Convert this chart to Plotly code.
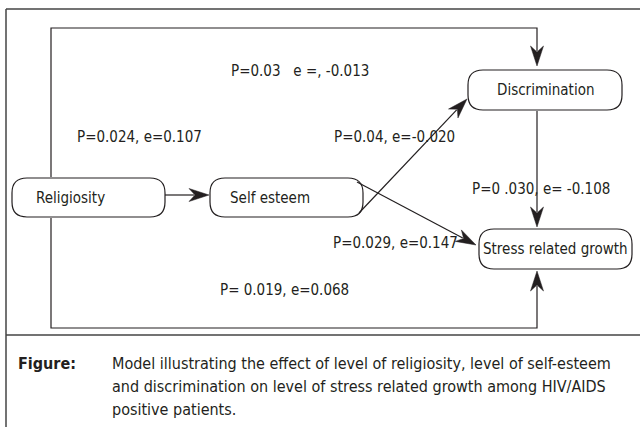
import math
import plotly.graph_objects as go

# ---- content ----
nodes = ["Religiosity", "Self esteem", "Discrimination", "Stress related growth"]
path_labels = [
    "P=0.03\u00a0\u00a0 e =, -0.013",
    "P=0.024, e=0.107",
    "P=0.04, e=-0.020",
    "P=0 .030, e= -0.108",
    "P=0.029, e=0.147",
    "P= 0.019, e=0.068",
]
caption_head = "Figure:"
caption_lines = [
    "Model illustrating the effect of level of religiosity, level of self-esteem",
    "and discrimination on level of stress related growth among HIV/AIDS",
    "positive patients.",
]

# ---- layout (pixel space, y down) ----
W, H = 640, 427
boxes = {
    "Religiosity": (12, 165, 178, 217),
    "Self esteem": (210, 363, 178, 217),
    "Discrimination": (468, 622, 70, 110),
    "Stress related growth": (479, 632, 229, 269),
}
edges = [
    [(51, 177), (51, 28), (537, 28), (537, 66)],
    [(165, 195), (209, 195)],
    [(359, 213), (467, 99)],
    [(357, 182), (476, 245)],
    [(537, 111), (537, 227)],
    [(51, 218), (51, 328), (537, 328), (537, 271)],
]
label_pos = [(229, 71), (75, 137), (332, 137), (470, 189), (331, 243), (218, 290)]

LINE = "#231f20"
FONT = "Liberation Sans Narrow, DejaVu Sans Condensed, Liberation Sans, sans-serif"

shapes = []


def rounded(x0, x1, y0, y1, r):
    return (f"M {x0+r},{y0} L {x1-r},{y0} Q {x1},{y0} {x1},{y0+r} L {x1},{y1-r} "
            f"Q {x1},{y1} {x1-r},{y1} L {x0+r},{y1} Q {x0},{y1} {x0},{y1-r} "
            f"L {x0},{y0+r} Q {x0},{y0} {x0+r},{y0} Z")


AL, AHW, ANOTCH = 20, 6.5, 6


def dart(tip, frm, L=AL, hw=AHW, notch=ANOTCH):
    dx, dy = tip[0] - frm[0], tip[1] - frm[1]
    n = math.hypot(dx, dy)
    ux, uy = dx / n, dy / n
    px, py = -uy, ux
    bx, by = tip[0] - ux * L, tip[1] - uy * L
    lx, ly = bx + px * hw, by + py * hw
    rx, ry = bx - px * hw, by - py * hw
    nx, ny = tip[0] - ux * (L - notch), tip[1] - uy * (L - notch)
    return f"M {tip[0]},{tip[1]} L {lx},{ly} L {nx},{ny} L {rx},{ry} Z"


# frame
shapes.append(dict(type="line", x0=6, y0=9, x1=W, y1=9, line=dict(color="#444", width=1.5)))
shapes.append(dict(type="line", x0=6, y0=9, x1=6, y1=H, line=dict(color="#444", width=1.5)))
shapes.append(dict(type="line", x0=6, y0=335, x1=W, y1=335, line=dict(color="#444", width=1.5)))

# boxes
for name in nodes:
    x0, x1, y0, y1 = boxes[name]
    shapes.append(dict(type="path", path=rounded(x0, x1, y0, y1, 15),
                       line=dict(color=LINE, width=1.2), fillcolor="rgba(0,0,0,0)"))

# edges
for pts in edges:
    p = "M " + " L ".join(f"{x},{y}" for x, y in pts[:-1])
    tip, frm = pts[-1], pts[-2]
    dx, dy = tip[0] - frm[0], tip[1] - frm[1]
    n = math.hypot(dx, dy)
    back = AL - ANOTCH + 1
    end = (tip[0] - dx / n * back, tip[1] - dy / n * back)
    p += f" L {end[0]},{end[1]}"
    shapes.append(dict(type="path", path=p, line=dict(color=LINE, width=1.2)))
    shapes.append(dict(type="path", path=dart(tip, frm), line=dict(color=LINE, width=0.5),
                       fillcolor=LINE))

annotations = []
for name in nodes:
    x0, x1, y0, y1 = boxes[name]
    cx = (x0 + x1) / 2
    if name == "Religiosity":
        cx = x0 + 58
    if name == "Self esteem":
        cx = x0 + 60
    annotations.append(dict(x=cx, y=(y0 + y1) / 2, text=name, showarrow=False,
                            xanchor="center", yanchor="middle", align="center",
                            font=dict(family=FONT, size=15, color=LINE)))
for txt, (x, y) in zip(path_labels, label_pos):
    annotations.append(dict(x=x, y=y, text=txt, showarrow=False, xanchor="left", align="left",
                            yanchor="middle", font=dict(family=FONT, size=15, color=LINE)))

annotations.append(dict(x=16, y=363, text="<b>" + caption_head + "</b>", showarrow=False,
                        xanchor="left", yanchor="middle", align="left",
                        font=dict(family=FONT, size=16, color=LINE)))
for i, line in enumerate(caption_lines):
    annotations.append(dict(x=110, y=363 + 23 * i, text=line, showarrow=False,
                            xanchor="left", yanchor="middle", align="left",
                            font=dict(family=FONT, size=16, color=LINE)))

fig = go.Figure(go.Scatter(x=[], y=[]))
fig.update_layout(
    width=W, height=H, margin=dict(l=0, r=0, t=0, b=0),
    paper_bgcolor="white", plot_bgcolor="white",
    xaxis=dict(range=[0, W], visible=False, fixedrange=True),
    yaxis=dict(range=[H, 0], visible=False, fixedrange=True),
    shapes=shapes, annotations=annotations, showlegend=False,
)
post = ("var s=document.createElement('style');"
        "s.innerHTML='html,body{margin:0;padding:0;overflow:hidden} text{font-stretch:condensed !important}';"
        "document.head.appendChild(s);"
        "var gd=document.getElementById('{plot_id}');"
        "Plotly.react(gd, gd.data, gd.layout);")
fig.write_html("out.html", post_script=post, config={"displayModeBar": False})
